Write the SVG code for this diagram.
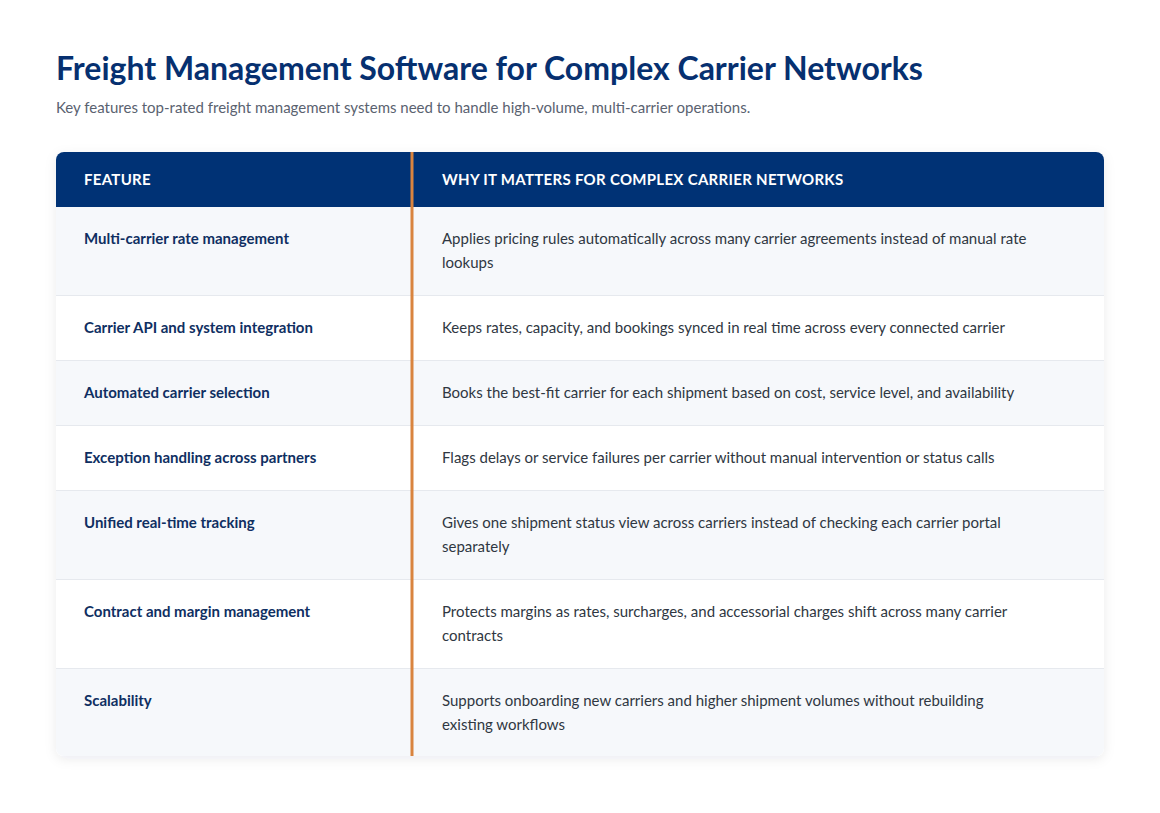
<svg xmlns="http://www.w3.org/2000/svg" width="1160" height="813" viewBox="0 0 1160 813">
<style>
text{font-family:Lato,"Noto Sans",sans-serif}
.h{font-size:15px;font-weight:bold;fill:#fff;letter-spacing:0.3px}
.f{font-size:15px;font-weight:bold;fill:#0f2f62}
.d{font-size:15px;fill:#2f3742}
.sep{stroke:#e6e9ee;stroke-width:1}
</style>
<defs>
<filter id="sh" x="-5%" y="-5%" width="110%" height="115%"><feDropShadow dx="0" dy="3" stdDeviation="6" flood-color="#0a1e3c" flood-opacity="0.08"/></filter>
<clipPath id="cp"><rect x="56" y="152" width="1048" height="604" rx="8"/></clipPath>
</defs>
<rect width="1160" height="813" fill="#fff"/>
<text x="56" y="80" style="font-size:32px;font-weight:bold;fill:#063070">Freight Management Software for Complex Carrier Networks</text>
<text x="56" y="113" style="font-size:15px;fill:#5a6270">Key features top-rated freight management systems need to handle high-volume, multi-carrier operations.</text>
<g id="table">
<rect x="56" y="152" width="1048" height="604" rx="8" fill="#fff" filter="url(#sh)"/>
<g clip-path="url(#cp)">
<rect x="56" y="152" width="1048" height="55" fill="#003275"/>
<rect x="56" y="207" width="1048" height="88" fill="#f6f8fb"/>
<rect x="56" y="360" width="1048" height="65" fill="#f6f8fb"/>
<rect x="56" y="490" width="1048" height="89" fill="#f6f8fb"/>
<rect x="56" y="668" width="1048" height="88" fill="#f6f8fb"/>
</g>
<line class="sep" x1="56" y1="295.5" x2="1104" y2="295.5"/>
<line class="sep" x1="56" y1="360.5" x2="1104" y2="360.5"/>
<line class="sep" x1="56" y1="425.5" x2="1104" y2="425.5"/>
<line class="sep" x1="56" y1="490.5" x2="1104" y2="490.5"/>
<line class="sep" x1="56" y1="579.5" x2="1104" y2="579.5"/>
<line class="sep" x1="56" y1="668.5" x2="1104" y2="668.5"/>
<line x1="412" y1="152" x2="412" y2="756" stroke="#d9843f" stroke-width="3"/>
<text class="h" x="84" y="185">FEATURE</text>
<text class="h" x="442" y="185">WHY IT MATTERS FOR COMPLEX CARRIER NETWORKS</text>
</g>
<g id="row1"><text class="f" x="84" y="244">Multi-carrier rate management</text><text class="d" x="442" y="244">Applies pricing rules automatically across many carrier agreements instead of manual rate</text><text class="d" x="442" y="268">lookups</text></g>
<g id="row2"><text class="f" x="84" y="333">Carrier API and system integration</text><text class="d" x="442" y="333">Keeps rates, capacity, and bookings synced in real time across every connected carrier</text></g>
<g id="row3"><text class="f" x="84" y="398">Automated carrier selection</text><text class="d" x="442" y="398">Books the best-fit carrier for each shipment based on cost, service level, and availability</text></g>
<g id="row4"><text class="f" x="84" y="463">Exception handling across partners</text><text class="d" x="442" y="463">Flags delays or service failures per carrier without manual intervention or status calls</text></g>
<g id="row5"><text class="f" x="84" y="528">Unified real-time tracking</text><text class="d" x="442" y="528">Gives one shipment status view across carriers instead of checking each carrier portal</text><text class="d" x="442" y="552">separately</text></g>
<g id="row6"><text class="f" x="84" y="617">Contract and margin management</text><text class="d" x="442" y="617">Protects margins as rates, surcharges, and accessorial charges shift across many carrier</text><text class="d" x="442" y="641">contracts</text></g>
<g id="row7"><text class="f" x="84" y="706">Scalability</text><text class="d" x="442" y="706">Supports onboarding new carriers and higher shipment volumes without rebuilding</text><text class="d" x="442" y="730">existing workflows</text></g>
<g id="connectors"/>
</svg>
